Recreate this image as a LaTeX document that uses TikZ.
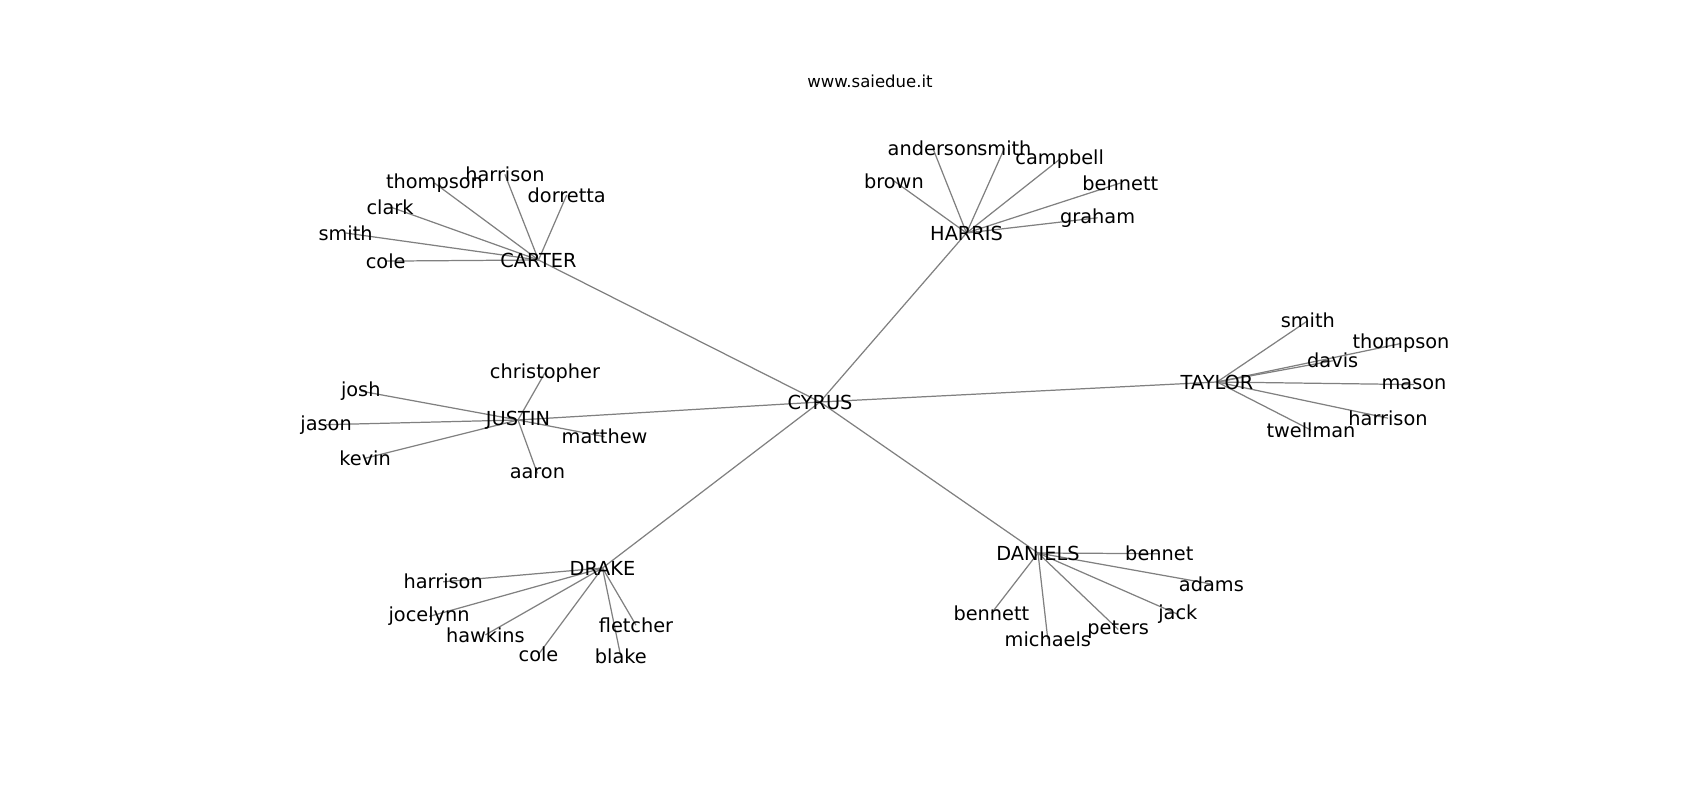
\documentclass[tikz,border=0pt]{standalone}
\usepackage{fontspec}
\setmainfont{DejaVu Sans}
\usetikzlibrary{backgrounds}
\tikzset{
  Name/.style      = {inner sep=0pt, font=\fontsize{5.5}{6.5}\selectfont},
  Title/.style     = {inner sep=0pt, font=\fontsize{4.7}{5.5}\selectfont},
  EdgeStyle/.style = {draw=gray, line width=0.35pt}
}

\begin{document}
\begin{tikzpicture}
  \useasboundingbox (0,0) rectangle (17,8);
  \node[Title] (T) at (8.70,7.19) {www.saiedue.it};
  \node[Name] (CY) at (8.20,3.98) {CYRUS};
  % families
  \node[Name] (CA) at (5.385,5.40) {CARTER};
  \node[Name] (HA) at (9.665,5.67) {HARRIS};
  \node[Name] (TA) at (12.17,4.18) {TAYLOR};
  \node[Name] (JU) at (5.18,3.80) {JUSTIN};
  \node[Name] (DR) at (6.025,2.32) {DRAKE};
  \node[Name] (DA) at (10.38,2.47) {DANIELS};
  % carter
  \node[Name] (CA1) at (3.857,5.389) {cole};
  \node[Name] (CA2) at (3.456,5.670) {smith};
  \node[Name] (CA3) at (3.901,5.931) {clark};
  \node[Name] (CA4) at (4.345,6.169) {thompson};
  \node[Name] (CA5) at (5.049,6.256) {harrison};
  \node[Name] (CA6) at (5.667,6.050) {dorretta};
  % harris
  \node[Name] (HA1) at (8.939,6.191) {brown};
  \node[Name] (HA2) at (9.329,6.516) {anderson};
  \node[Name] (HA3) at (10.044,6.516) {smith};
  \node[Name] (HA4) at (10.597,6.407) {campbell};
  \node[Name] (HA5) at (11.203,6.169) {bennett};
  \node[Name] (HA6) at (10.976,5.822) {graham};
  % taylor
  \node[Name] (TA1) at (13.078,4.793) {smith};
  \node[Name] (TA2) at (14.010,4.565) {thompson};
  \node[Name] (TA3) at (13.327,4.392) {davis};
  \node[Name] (TA4) at (14.140,4.154) {mason};
  \node[Name] (TA5) at (13.880,3.818) {harrison};
  \node[Name] (TA6) at (13.110,3.699) {twellman};
  % justin
  \node[Name] (JU1) at (5.450,4.273) {christopher};
  \node[Name] (JU2) at (3.608,4.089) {josh};
  \node[Name] (JU3) at (3.261,3.753) {jason};
  \node[Name] (JU4) at (3.651,3.417) {kevin};
  \node[Name] (JU5) at (6.046,3.633) {matthew};
  \node[Name] (JU6) at (5.374,3.265) {aaron};
  % drake
  \node[Name] (DR1) at (4.432,2.182) {harrison};
  \node[Name] (DR2) at (4.291,1.835) {jocelynn};
  \node[Name] (DR3) at (4.854,1.651) {hawkins};
  \node[Name] (DR4) at (5.385,1.456) {cole};
  \node[Name] (DR5) at (6.208,1.434) {blake};
  \node[Name] (DR6) at (6.360,1.748) {fletcher};
  % daniels
  \node[Name] (DA1) at (11.593,2.463) {bennet};
  \node[Name] (DA2) at (12.114,2.160) {adams};
  \node[Name] (DA3) at (11.778,1.857) {jack};
  \node[Name] (DA4) at (11.182,1.705) {peters};
  \node[Name] (DA5) at (10.478,1.607) {michaels};
  \node[Name] (DA6) at (9.914,1.867) {bennett};
  \begin{pgfonlayer}{background}
    \draw[EdgeStyle] (CY.center) -- (CA.center);
    \draw[EdgeStyle] (CY.center) -- (HA.center);
    \draw[EdgeStyle] (CY.center) -- (TA.center);
    \draw[EdgeStyle] (CY.center) -- (JU.center);
    \draw[EdgeStyle] (CY.center) -- (DR.center);
    \draw[EdgeStyle] (CY.center) -- (DA.center);
    \draw[EdgeStyle] (CA.center) -- (CA1.center);
    \draw[EdgeStyle] (CA.center) -- (CA2.center);
    \draw[EdgeStyle] (CA.center) -- (CA3.center);
    \draw[EdgeStyle] (CA.center) -- (CA4.center);
    \draw[EdgeStyle] (CA.center) -- (CA5.center);
    \draw[EdgeStyle] (CA.center) -- (CA6.center);
    \draw[EdgeStyle] (HA.center) -- (HA1.center);
    \draw[EdgeStyle] (HA.center) -- (HA2.center);
    \draw[EdgeStyle] (HA.center) -- (HA3.center);
    \draw[EdgeStyle] (HA.center) -- (HA4.center);
    \draw[EdgeStyle] (HA.center) -- (HA5.center);
    \draw[EdgeStyle] (HA.center) -- (HA6.center);
    \draw[EdgeStyle] (TA.center) -- (TA1.center);
    \draw[EdgeStyle] (TA.center) -- (TA2.center);
    \draw[EdgeStyle] (TA.center) -- (TA3.center);
    \draw[EdgeStyle] (TA.center) -- (TA4.center);
    \draw[EdgeStyle] (TA.center) -- (TA5.center);
    \draw[EdgeStyle] (TA.center) -- (TA6.center);
    \draw[EdgeStyle] (JU.center) -- (JU1.center);
    \draw[EdgeStyle] (JU.center) -- (JU2.center);
    \draw[EdgeStyle] (JU.center) -- (JU3.center);
    \draw[EdgeStyle] (JU.center) -- (JU4.center);
    \draw[EdgeStyle] (JU.center) -- (JU5.center);
    \draw[EdgeStyle] (JU.center) -- (JU6.center);
    \draw[EdgeStyle] (DR.center) -- (DR1.center);
    \draw[EdgeStyle] (DR.center) -- (DR2.center);
    \draw[EdgeStyle] (DR.center) -- (DR3.center);
    \draw[EdgeStyle] (DR.center) -- (DR4.center);
    \draw[EdgeStyle] (DR.center) -- (DR5.center);
    \draw[EdgeStyle] (DR.center) -- (DR6.center);
    \draw[EdgeStyle] (DA.center) -- (DA1.center);
    \draw[EdgeStyle] (DA.center) -- (DA2.center);
    \draw[EdgeStyle] (DA.center) -- (DA3.center);
    \draw[EdgeStyle] (DA.center) -- (DA4.center);
    \draw[EdgeStyle] (DA.center) -- (DA5.center);
    \draw[EdgeStyle] (DA.center) -- (DA6.center);
  \end{pgfonlayer}
\end{tikzpicture}
\end{document}
